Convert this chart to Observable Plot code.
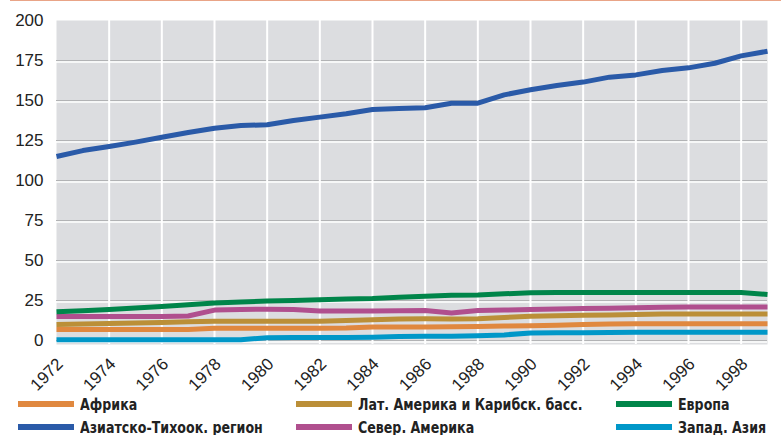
<!DOCTYPE html>
<html>
<head>
<meta charset="utf-8">
<script src="https://cdn.jsdelivr.net/npm/d3@7"></script>
<script src="https://cdn.jsdelivr.net/npm/@observablehq/plot@0.6"></script>
<style>
  body { margin: 0; background: #fff; }
  #wrap { position: relative; width: 781px; height: 435px; overflow: hidden; }
  #topline { position: absolute; left: 10px; right: 0; top: 0; height: 1px; background: #e9a487; }
  #chart { position: absolute; left: 0; top: 0; }
  .leg { position: absolute; display: flex; align-items: center; height: 20px;
         font-family: "Liberation Sans Narrow", "DejaVu Sans Condensed", "Liberation Sans", sans-serif;
         font-weight: bold; font-size: 16.5px; color: #222; white-space: nowrap; }
  .leg .sw { width: 56px; height: 6px; margin-right: 6px; flex: none; }
  .leg .tx { display: inline-block; transform: scaleX(0.85); transform-origin: left center; }
</style>
</head>
<body>
<div id="wrap">
  <div id="chart"></div>
  <div id="topline"></div>
  <div id="legend"></div>
</div>
<script>
const years = [1972, 1973, 1974, 1975, 1976, 1977, 1978, 1979, 1980, 1981, 1982, 1983, 1984, 1985,
               1986, 1987, 1988, 1989, 1990, 1991, 1992, 1993, 1994, 1995, 1996, 1997, 1998, 1999];

const africa   = [6.9, 6.9, 6.9, 6.9, 6.9, 6.8, 7.7, 7.7, 7.7, 7.7, 7.7, 7.8, 8.5, 8.5,
                  8.5, 8.6, 8.8, 9.0, 9.2, 9.6, 10.0, 10.3, 10.5, 10.5, 10.5, 10.5, 10.5, 10.5];
const asiaPac  = [115, 118.7, 121.2, 124, 127, 130, 132.7, 134.4, 134.8, 137.5, 139.6, 141.7, 144.4, 145,
                  145.5, 148.3, 148.3, 153.5, 156.7, 159.4, 161.5, 164.6, 166, 168.7, 170.4, 173.3, 177.9, 180.8];
const latAm    = [10, 10.3, 10.6, 10.9, 11.3, 11.7, 12, 12, 12, 12, 12, 12.5, 12.9, 13.5,
                  13.6, 13.4, 13.6, 14.4, 15.2, 15.5, 15.8, 16, 16.3, 16.6, 16.6, 16.6, 16.6, 16.6];
const northAm  = [15, 15, 15, 15, 15, 15.3, 19, 19.4, 19.6, 19.4, 18.5, 18.5, 18.5, 18.6,
                  18.7, 17.2, 18.7, 19, 19.3, 19.7, 20, 20.2, 20.4, 20.8, 21, 21, 21, 21];
const europe   = [17.9, 18.6, 19.4, 20.3, 21.2, 22.3, 23.5, 24, 24.7, 25, 25.5, 26, 26.3, 27,
                  27.7, 28.3, 28.5, 29.2, 29.8, 30, 30, 30, 30, 30, 30, 30, 30, 28.8];
const westAsia = [0.5, 0.5, 0.5, 0.5, 0.5, 0.5, 0.5, 0.5, 1.7, 1.8, 1.8, 1.8, 2.0, 2.5,
                  2.6, 2.7, 3.0, 3.5, 4.7, 4.8, 4.8, 5.0, 5.2, 5.2, 5.2, 5.2, 5.2, 5.2];

const seriesNames = ["Африка", "Лат. Америка и Карибск. басс.", "Север. Америка", "Европа", "Запад. Азия", "Азиатско-Тихоок. регион"];
const seriesValues = [africa, latAm, northAm, europe, westAsia, asiaPac];
const seriesColors = ["#e0883f", "#bb8f38", "#b04f8e", "#00854a", "#0097c8", "#2a5aa8"];

const yTicks = [0, 25, 50, 75, 100, 125, 150, 175, 200];
const xTicks = [1972, 1974, 1976, 1978, 1980, 1982, 1984, 1986, 1988, 1990, 1992, 1994, 1996, 1998];

const legendOrder = [
  ["Африка", "Азиатско-Тихоок. регион"],
  ["Лат. Америка и Карибск. басс.", "Север. Америка"],
  ["Европа", "Запад. Азия"]
];

const rows = [];
seriesNames.forEach((name, i) => {
  seriesValues[i].forEach((v, j) => rows.push({series: name, year: years[j], value: v}));
});

const yMin = -2.5;
const marks = [
  Plot.frame({fill: "#dcdde0", stroke: null}),
  Plot.ruleY(yTicks.filter(d => d < 200), {y: d => d, stroke: "#b2b3b5", strokeWidth: 1.2}),
  Plot.ruleY(yTicks.filter(d => d < 200), {y: d => d, stroke: "#ffffff", strokeWidth: 1.5, dy: 1.5}),
  Plot.ruleX(xTicks.filter(d => d > 1972), {x: d => d, stroke: "#ffffff", strokeWidth: 2}),
];
seriesNames.forEach((name, i) => {
  marks.push(Plot.line(rows.filter(r => r.series === name), {
    x: "year", y: "value", stroke: seriesColors[i], strokeWidth: 5, strokeLinejoin: "round", strokeLinecap: "butt"
  }));
});
marks.push(Plot.axisY({ticks: yTicks, tickSize: 0, tickPadding: 13, fontSize: 17, fill: "#222", label: null}));
marks.push(Plot.text(xTicks, {
  x: d => d, y: () => yMin, text: d => String(d), rotate: -45, textAnchor: "end",
  lineAnchor: "bottom", fontSize: 17, fill: "#222"
}));

const chart = Plot.plot({
  width: 781,
  height: 390,
  marginTop: 20,
  marginLeft: 56,
  marginRight: 14,
  marginBottom: 46,
  x: {domain: [1972, 1999], axis: null},
  y: {domain: [yMin, 200], axis: null},
  style: {fontFamily: "'Liberation Sans', Arial, sans-serif", fontSize: "17px", color: "#222", background: "transparent", overflow: "visible"},
  marks
});
// shift the rotated year labels down-right of their ticks (screen space)
const yearGroup = Array.from(chart.querySelectorAll("g")).find(g => g.getAttribute("aria-label") === "text");
if (yearGroup) yearGroup.setAttribute("transform", "translate(8,21)");
document.getElementById("chart").appendChild(chart);

const colX = [18, 296, 616];
const rowY = [394, 417];
const legend = document.getElementById("legend");
legendOrder.forEach((col, ci) => {
  col.forEach((name, ri) => {
    const idx = seriesNames.indexOf(name);
    const el = document.createElement("div");
    el.className = "leg";
    el.style.left = colX[ci] + "px";
    el.style.top = rowY[ri] + "px";
    const sw = document.createElement("span");
    sw.className = "sw";
    sw.style.background = seriesColors[idx];
    const tx = document.createElement("span");
    tx.className = "tx";
    tx.textContent = name;
    el.appendChild(sw);
    el.appendChild(tx);
    legend.appendChild(el);
  });
});
</script>
</body>
</html>
